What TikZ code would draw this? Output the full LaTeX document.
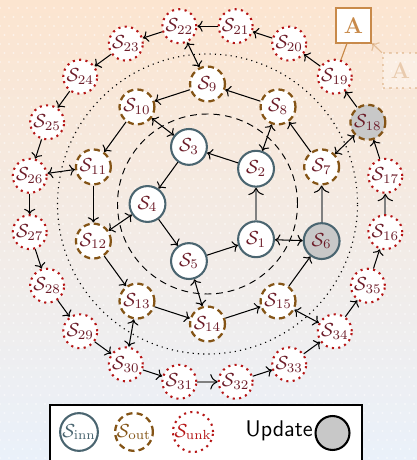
\documentclass[tikz,border=0pt]{standalone}
\usetikzlibrary{arrows.meta}
\definecolor{innc}{RGB}{74,101,112}
\definecolor{outc}{RGB}{132,84,22}
\definecolor{unkc}{RGB}{182,22,22}
\definecolor{labc}{RGB}{108,28,40}
\definecolor{updgray}{RGB}{200,200,200}
\definecolor{linkgray}{RGB}{128,128,128}
\definecolor{accent}{RGB}{200,138,74}
\definecolor{bgtop}{RGB}{252,229,208}
\definecolor{bgmid}{RGB}{250,244,239}
\definecolor{bgbot}{RGB}{234,241,250}
\begin{document}
\begin{tikzpicture}[x=0.53pt,y=0.53pt,
  >={Computer Modern Rightarrow[line width=0.55pt]},
  innnode/.style={circle, draw=innc, line width=1.1pt, fill=white,
    minimum size=19pt, inner sep=0pt, text=labc},
  outnode/.style={circle, draw=outc, line width=1.2pt,
    dash pattern=on 3.3pt off 2.2pt, fill=white,
    minimum size=18.5pt, inner sep=0pt, text=labc},
  unknode/.style={circle, draw=unkc, line width=1.1pt,
    dash pattern=on 1.1pt off 2.3pt, fill=white,
    minimum size=18pt, inner sep=0pt, text=labc},
  updnode/.style={fill=updgray},
  link/.style={line width=0.55pt, black},
  wrap/.style={line width=1.05pt, linkgray,
    -{Computer Modern Rightarrow[color=black,line width=0.55pt]}},
  abox/.style={draw=accent, line width=1.1pt, fill=white, text=accent,
    minimum size=18.5pt, inner sep=0pt, font=\large\bfseries},
]
% canvas
\useasboundingbox (0,0) rectangle (417,460);
\clip (0,0) rectangle (417,460);
\shade[top color=bgtop, middle color=bgmid, bottom color=bgbot]
  (0,0) rectangle (417,460);
\begin{scope}[opacity=0.5]
  \foreach \j in {0,...,51}
    \foreach \i in {0,...,46}
      \fill[white] ({\i*9 + mod(\j,2)*4.5}, {\j*9+2}) circle[radius=1.1];
\end{scope}

% guide rings
\coordinate (C) at (207.5,256);
\draw[line width=0.5pt, dash pattern=on 3.6pt off 2.6pt] (C) circle[radius=90];
\draw[line width=0.6pt, dash pattern=on 0.6pt off 2.2pt] (C) circle[radius=150];

\begin{scope}[shift={(207.5,256)}]
  % inner ring
  \node[innnode] (S1) at (-36:60)  {$\mathcal{S}_{1}$};
  \node[innnode] (S2) at (36:60)   {$\mathcal{S}_{2}$};
  \node[innnode] (S3) at (108:60)  {$\mathcal{S}_{3}$};
  \node[innnode] (S4) at (180:60)  {$\mathcal{S}_{4}$};
  \node[innnode] (S5) at (252:60)  {$\mathcal{S}_{5}$};
  % middle ring
  \node[innnode, updnode] (S6) at (-18:120) {$\mathcal{S}_{6}$};
  \foreach \k in {7,...,15}
    \node[outnode] (S\k) at ({342+36*(\k-6)}:120) {$\mathcal{S}_{\k}$};
  % outer ring
  \foreach \k in {16,17,19,20,21,22,23,24,25,26,27,28,29,30,31,32,33,34,35}
    \node[unknode] (S\k) at ({9+18*(\k-17)}:180) {$\mathcal{S}_{\k}$};
  \node[outnode, updnode] (S18) at (27:180) {$\mathcal{S}_{18}$};
\end{scope}

% ring edges
\draw[wrap] (S1) -- (S2);
\foreach \a/\b in {S2/S3, S3/S4, S4/S5, S5/S1}
  \draw[link, ->] (\a) -- (\b);
\draw[wrap] (S6) -- (S7);
\foreach \a/\b in {S7/S8, S8/S9, S9/S10, S10/S11, S11/S12, S12/S13,
                   S13/S14, S14/S15, S15/S6}
  \draw[link, ->] (\a) -- (\b);
\draw[wrap] (S16) -- (S17);
\draw[wrap] (S31) -- (S32);
\foreach \a/\b in {S17/S18, S18/S19, S19/S20, S20/S21, S21/S22, S22/S23,
                   S23/S24, S24/S25, S25/S26, S26/S27, S27/S28, S28/S29,
                   S29/S30, S30/S31, S32/S33, S33/S34, S34/S35, S35/S16}
  \draw[link, ->] (\a) -- (\b);

% links between rings
\foreach \a/\b in {S1/S6, S2/S8, S3/S10, S4/S12, S5/S14,
                   S7/S18, S9/S22, S11/S26, S13/S30, S15/S34}
  \draw[link, <->] (\a) -- (\b);

% annotation boxes
\node[abox] (A) at (353.5,434.5) {A};
\node[abox, opacity=0.35, dash pattern=on 1.1pt off 2.3pt] (Af) at (400.5,389.5) {A};
\draw[accent, line width=0.6pt] (S19) -- (A);
\draw[accent, opacity=0.45, line width=0.6pt,
  -{Computer Modern Rightarrow[line width=0.6pt]}] (Af) -- (A);

% legend
\draw[line width=1.1pt, fill=white] (50,-10) rectangle (362,55);
\node[innnode, text=innc, minimum size=20pt] (Linn) at (79,28) {$\mathcal{S}_{\mathrm{inn}}$};
\node[outnode, text=outc, minimum size=20pt] (Lout) at (134,28) {$\mathcal{S}_{\mathrm{out}}$};
\node[unknode, text=unkc, minimum size=21pt] (Lunk) at (193,28) {$\mathcal{S}_{\mathrm{unk}}$};
\node[font=\sffamily\large, anchor=east, inner sep=0pt] (Lupd) at (313,29) {Update};
\node[circle, draw=black, line width=1.1pt, fill=updgray, minimum size=18pt,
  inner sep=0pt] (Lcirc) at (332.5,27) {};
\end{tikzpicture}
\end{document}
